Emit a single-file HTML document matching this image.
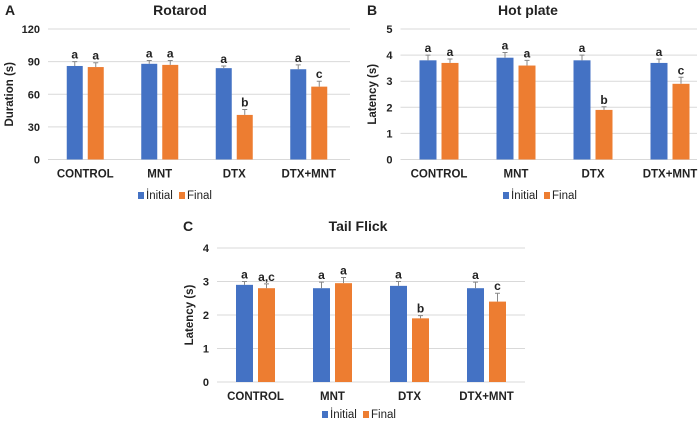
<!DOCTYPE html>
<html><head><meta charset="utf-8"><style>
body{margin:0;background:#fff;}
svg{display:block;font-family:"Liberation Sans",Arial,sans-serif;font-weight:bold;}
</style></head><body>
<svg id="fig" width="700" height="421" viewBox="0 0 700 421" xmlns="http://www.w3.org/2000/svg"></svg>
<script>
const categories = ["CONTROL","MNT","DTX","DTX+MNT"];
const rotInitial = [86,88,84,83];
const rotFinal = [85,87,41,67];
const rotInitErr = [4,3,2,4];
const rotFinalErr = [4,4,5,5];
const rotInitLbl = ["a","a","a","a"];
const rotFinalLbl = ["a","a","b","c"];
const rotTicks = [0,30,60,90,120];
const hotInitial = [3.8,3.9,3.8,3.7];
const hotFinal = [3.7,3.6,1.9,2.9];
const hotInitErr = [0.2,0.2,0.2,0.15];
const hotFinalErr = [0.15,0.2,0.12,0.25];
const hotInitLbl = ["a","a","a","a"];
const hotFinalLbl = ["a","a","b","c"];
const hotTicks = [0,1,2,3,4,5];
const tailInitial = [2.9,2.8,2.87,2.8];
const tailFinal = [2.8,2.95,1.9,2.4];
const tailInitErr = [0.1,0.18,0.13,0.18];
const tailFinalErr = [0.13,0.17,0.08,0.25];
const tailInitLbl = ["a","a","a","a"];
const tailFinalLbl = ["a,c","a","b","c"];
const tailTicks = [0,1,2,3,4];

const NS="http://www.w3.org/2000/svg";
const svg=document.getElementById('fig');
function mk(tag,attrs,parent,text){const e=document.createElementNS(NS,tag);for(const k in attrs)e.setAttribute(k,attrs[k]);if(text!==undefined)e.textContent=text;(parent||svg).appendChild(e);return e;}

function chart(cfg){
  const g=mk('g',{});
  
  
  const max=cfg.ticks[cfg.ticks.length-1];
  const y=v=>cfg.y0-(v/max)*(cfg.y0-cfg.y1);
  const xc=i=>cfg.x0+cfg.step*(i+0.5);
  cfg.ticks.forEach(t=>{
    const l=mk('line',{x1:cfg.x0,x2:cfg.x1,y1:y(t),y2:y(t),stroke:'#d9d9d9','stroke-width':1},g);
    
    
    const tx=mk('text',{x:cfg.x0-8,y:y(t)+4,'text-anchor':'end','font-size':11,fill:'#222'},g,String(t));
    
    
  });
  const series=[[cfg.init,cfg.ie,cfg.il,'#4472C4','initial'],[cfg.fin,cfg.fe,cfg.fl,'#ED7D31','final']];
  categories.forEach((c,i)=>{
    series.forEach((s,k)=>{
      const bx=k===0?xc(i)-cfg.gap/2-cfg.bw:xc(i)+cfg.gap/2;
      const v=s[0][i];
      const r=mk('rect',{x:bx,y:y(v),width:cfg.bw,height:cfg.y0-y(v),fill:s[3]},g);
      
      
      const cx=bx+cfg.bw/2, ey=y(v+s[1][i]);
      const eb=mk('path',{d:`M${cx},${y(v)}V${ey}M${cx-2.5},${ey}H${cx+2.5}`,stroke:'#888','stroke-width':1,fill:'none'},g);
      
      
      const lb=mk('text',{x:cx,y:ey-3,'text-anchor':'middle','font-size':12,fill:'#222'},g,s[2][i]);
      
      
    });
    const cl=mk('text',{x:xc(i),y:cfg.y0+18,'text-anchor':'middle','font-size':11.5,fill:'#222'},g,c);
    
    
  });
  const t=mk('text',{x:cfg.tx,y:cfg.ty,'text-anchor':'middle','font-size':14,fill:'#222'},g,cfg.title);
  
  
  const p=mk('text',{x:cfg.px,y:cfg.ty,'font-size':14,fill:'#222'},g,cfg.panel);
  
  
  const ym=(cfg.y0+cfg.y1)/2;
  const yt=mk('text',{x:cfg.yx,y:ym,'text-anchor':'middle','font-size':11.5,fill:'#222',transform:`rotate(-90 ${cfg.yx} ${ym})`},g,cfg.ytitle);
  
  
  const lg=mk('g',{},g);
  
  
  const a=mk('rect',{x:cfg.lx,y:cfg.ly-7,width:6,height:7,fill:'#4472C4'},lg);
  
  
  const at=mk('text',{x:cfg.lx+8,y:cfg.ly,'font-size':11.5,'font-weight':'normal',fill:'#222'},lg,'İnitial');
  
  
  const b=mk('rect',{x:cfg.lx+41,y:cfg.ly-7,width:6,height:7,fill:'#ED7D31'},lg);
  
  
  const bt=mk('text',{x:cfg.lx+49,y:cfg.ly,'font-size':11.5,'font-weight':'normal',fill:'#222'},lg,'Final');
  
  
}
chart({name:'chart-rotarod',x0:48,x1:350,step:74.5,y0:159.5,y1:29,bw:16,gap:5,ticks:rotTicks,init:rotInitial,fin:rotFinal,ie:rotInitErr,fe:rotFinalErr,il:rotInitLbl,fl:rotFinalLbl,title:'Rotarod',tx:180,ty:15,panel:'A',px:5,ytitle:'Duration (s)',yx:13,lx:138,ly:199});
chart({name:'chart-hot-plate',x0:400.5,x1:697,step:77,y0:159.5,y1:29,bw:17,gap:5,ticks:hotTicks,init:hotInitial,fin:hotFinal,ie:hotInitErr,fe:hotFinalErr,il:hotInitLbl,fl:hotFinalLbl,title:'Hot plate',tx:528,ty:15,panel:'B',px:367,ytitle:'Latency (s)',yx:376,lx:503,ly:199});
chart({name:'chart-tail-flick',x0:217,x1:525,step:77,y0:382,y1:248,bw:17,gap:5,ticks:tailTicks,init:tailInitial,fin:tailFinal,ie:tailInitErr,fe:tailFinalErr,il:tailInitLbl,fl:tailFinalLbl,title:'Tail Flick',tx:358,ty:231,panel:'C',px:183,ytitle:'Latency (s)',yx:193,lx:322,ly:418});
</script>
</body></html>
